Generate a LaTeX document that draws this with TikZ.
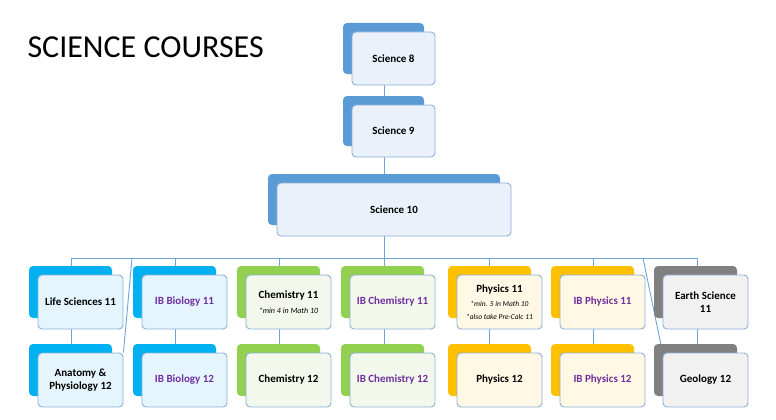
\documentclass[tikz,border=0pt]{standalone}
\usepackage{fontspec}
\setmainfont{Carlito}
\usetikzlibrary{backgrounds}
\definecolor{sblue}{RGB}{91,155,213}
\definecolor{scyan}{RGB}{0,176,240}
\definecolor{sgreen}{RGB}{146,208,80}
\definecolor{sgold}{RGB}{255,192,0}
\definecolor{sgray}{RGB}{128,128,128}
\definecolor{lblue}{RGB}{234,241,250}
\definecolor{lcyan}{RGB}{229,245,253}
\definecolor{lgreen}{RGB}{242,248,235}
\definecolor{lgold}{RGB}{255,248,229}
\definecolor{lgray}{RGB}{241,241,241}
\definecolor{bord}{RGB}{140,175,215}
\definecolor{ibpurple}{RGB}{112,48,160}
\newcommand{\crsbox}[8]{%
  \fill[#2,rounded corners=4pt] (#4-9,#5-9) rectangle ++(#6-2,#7-2);
  \node[front,fill=#3,minimum width=#6pt,minimum height=#7pt] (#1) at (#4+#6/2,#5+#7/2) {#8};
}
\begin{document}
\begin{tikzpicture}[x=1pt,y=-1pt,
  front/.style={draw=bord,line width=0.9pt,rounded corners=4pt,align=center,font=\fontsize{11}{13}\selectfont\bfseries,inner sep=1pt},
  link/.style={draw=sblue!90,line width=0.9pt}]
\useasboundingbox (0,0) rectangle (776,420);
\node[anchor=west,font=\fontsize{32}{34}\selectfont] (title) at (24,47) {SCIENCE COURSES};
\crsbox{s8}{sblue}{lblue}{352}{32}{83}{53}{Science 8}
\crsbox{s9}{sblue}{lblue}{352}{105}{83}{52}{Science 9}
\crsbox{s10}{sblue}{lblue}{277}{183}{234}{53}{Science 10}
\crsbox{life}{scyan}{lcyan}{38}{275}{85}{54}{Life Sciences 11}
\crsbox{anat}{scyan}{lcyan}{38}{353}{85}{54}{Anatomy \&\\Physiology 12}
\crsbox{bio}{scyan}{lcyan}{142}{275}{85}{54}{\textcolor{ibpurple}{IB Biology 11}}
\crsbox{bio2}{scyan}{lcyan}{142}{353}{85}{54}{\textcolor{ibpurple}{IB Biology 12}}
\crsbox{chem}{sgreen}{lgreen}{246}{275}{85}{54}{Chemistry 11\\[2pt]{\fontsize{8}{9}\selectfont\itshape\mdseries *min 4 in Math 10}}
\crsbox{chem2}{sgreen}{lgreen}{246}{353}{85}{54}{Chemistry 12}
\crsbox{ibc}{sgreen}{lgreen}{350}{275}{85}{54}{\textcolor{ibpurple}{IB Chemistry 11}}
\crsbox{ibc2}{sgreen}{lgreen}{350}{353}{85}{54}{\textcolor{ibpurple}{IB Chemistry 12}}
\crsbox{phys}{sgold}{lgold}{457}{275}{85}{54}{Physics 11\\[1pt]{\fontsize{7.5}{12}\selectfont\itshape\mdseries *min. 5 in Math 10}\\{\fontsize{7.5}{9}\selectfont\itshape\mdseries *also take Pre-Calc 11}}
\crsbox{phys2}{sgold}{lgold}{457}{353}{85}{54}{Physics 12}
\crsbox{ibp}{sgold}{lgold}{560}{275}{85}{54}{\textcolor{ibpurple}{IB Physics 11}}
\crsbox{ibp2}{sgold}{lgold}{560}{353}{85}{54}{\textcolor{ibpurple}{IB Physics 12}}
\crsbox{earth}{sgray}{lgray}{663}{275}{85}{54}{Earth Science\\11}
\crsbox{geo}{sgray}{lgray}{663}{353}{85}{54}{Geology 12}
\coordinate (bus) at (384,258);
\coordinate (busL) at (71,258);
\coordinate (busR) at (697,258);
\coordinate (dl) at (132,258);
\coordinate (dr) at (643,258);
\begin{scope}[on background layer]
\draw[link] (s8.south -| bus) -- (s9.north -| bus);
\draw[link] (s9.south -| bus) -- (s10.north -| bus);
\draw[link] (s10.south -| bus) -- (bus);
\draw[link] (busL) -- (busR);
\foreach \x in {71,175,279,384,489,593,697}{
  \draw[link] (\x,258) -- (\x,270);
  \draw[link] (\x,329) -- (\x,348);
}
\draw[link] (dl) -- (anat.north east);
\draw[link] (dr) -- (geo.north west);
\end{scope}
\end{tikzpicture}
\end{document}
